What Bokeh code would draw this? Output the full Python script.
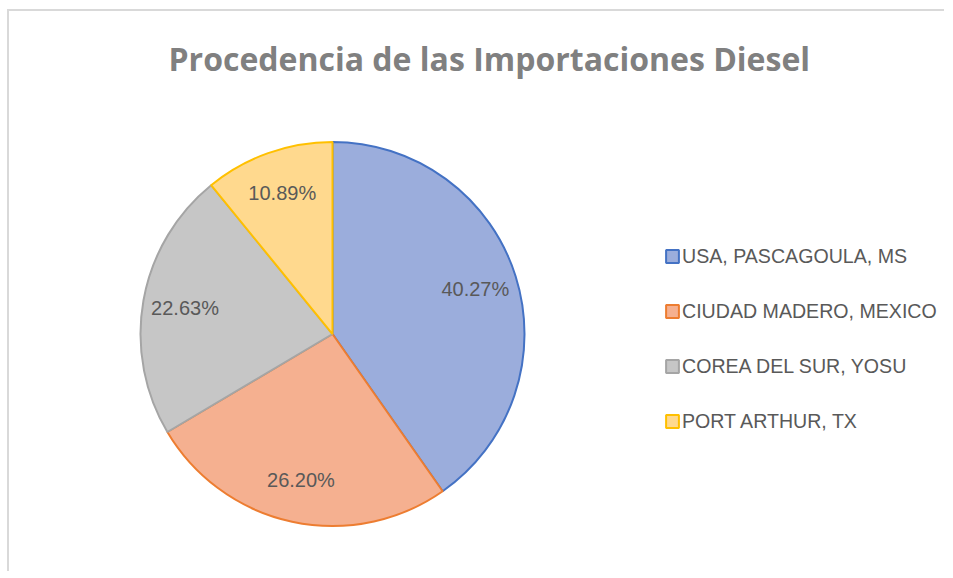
import numpy as np
from bokeh.plotting import figure
from bokeh.models import ColumnDataSource, Range1d, Legend, LegendItem
from bokeh.core.properties import value
from bokeh.embed import file_html
from bokeh.resources import INLINE

# ---- data ----
categories = ["USA, PASCAGOULA, MS", "CIUDAD MADERO, MEXICO",
              "COREA DEL SUR, YOSU", "PORT ARTHUR, TX"]
shares = [40.27, 26.20, 22.63, 10.89]
fill_colors = ["#9BADDC", "#F5B090", "#C6C6C6", "#FFD98E"]
line_colors = ["#4472C4", "#ED7D31", "#A5A5A5", "#FFC000"]
title_text = "Procedencia de las Importaciones Diesel"

# ---- layout ----
W, H = 937, 562
TOP = 90
CX, CY, R = 323, 240, 192
LABEL_FRAC = 0.78

total = sum(shares)
frac = np.array(shares) / total
cum_end = np.cumsum(frac)
cum_start = cum_end - frac
start_angle = np.pi / 2 - 2 * np.pi * cum_start
end_angle = np.pi / 2 - 2 * np.pi * cum_end
mid = (start_angle + end_angle) / 2

src = ColumnDataSource(dict(
    cat=categories, share=shares,
    start=start_angle, end=end_angle,
    fill=fill_colors, line=line_colors,
    lx=CX + LABEL_FRAC * R * np.cos(mid),
    ly=CY + LABEL_FRAC * R * np.sin(mid),
    lbl=[f"{s:.2f}%" for s in shares],
))

p = figure(width=W, height=H, output_backend="svg", toolbar_location=None,
           x_range=Range1d(0, W), y_range=Range1d(0, H - TOP),
           x_axis_location=None, y_axis_location=None,
           min_border_left=0, min_border_right=0, min_border_bottom=0,
           min_border_top=TOP, title=title_text)
p.grid.visible = False
p.outline_line_color = None
p.background_fill_color = "white"
p.border_fill_color = "white"
p.styles = {"border-left": "2px solid #D9D9D9", "border-top": "2px solid #D9D9D9",
            "margin-left": "7px", "margin-top": "9px"}

p.title.align = "left"
p.title.offset = 159
p.title.text_font = "Open Sans"
p.title.text_font_style = "bold"
p.title.text_font_size = "32px"
p.title.text_color = "#808080"
p.title.standoff = 46

w = p.wedge(x=CX, y=CY, radius=R, start_angle="start", end_angle="end",
            direction="clock", fill_color="fill", line_color="line",
            line_width=2, source=src)

p.text(x="lx", y="ly", text="lbl", source=src, text_align="center",
       text_baseline="middle", text_font=value("Liberation Sans"),
       text_font_size="20px", text_color="#595959")

items = [LegendItem(label=categories[i], renderers=[w], index=i)
         for i in range(len(categories))]
legend = Legend(items=items, location=(655, 140), padding=0, margin=0,
                spacing=31, glyph_width=16, glyph_height=16, label_height=24,
                label_standoff=2, border_line_color=None,
                background_fill_alpha=0,
                label_text_font="Liberation Sans",
                label_text_font_size="19.6px", label_text_color="#595959")
p.add_layout(legend)

open("out.html", "w").write(file_html(p, INLINE))
